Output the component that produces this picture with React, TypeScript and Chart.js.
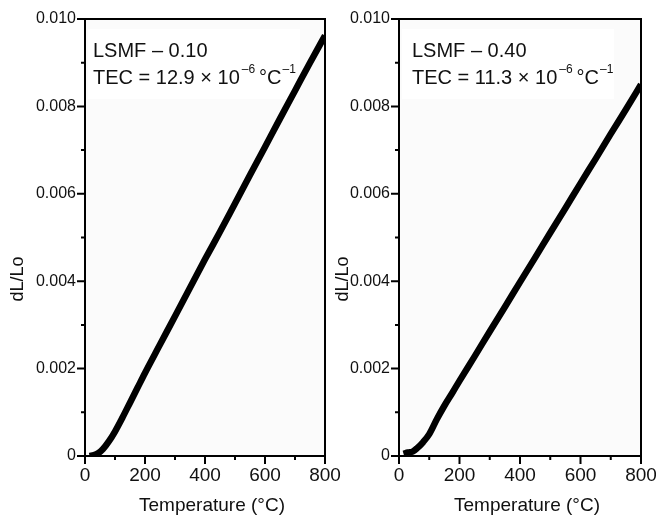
import React, { useEffect, useRef } from 'react';
import { Chart, registerables } from 'chart.js';
Chart.register(...registerables);

const temperature = [15, 30, 45, 60, 80, 100, 125, 150, 175, 200, 250, 300, 350, 400, 450, 500, 550, 600, 650, 700, 750, 800];
const dLLo_010 = [0, 0.00002, 0.00007, 0.00016, 0.00034, 0.00056, 0.00088, 0.00122, 0.00156, 0.0019, 0.00255, 0.0032, 0.00385, 0.0045, 0.00513, 0.00578, 0.00643, 0.00707, 0.00772, 0.00836, 0.009, 0.00962];
const dLLo_040 = [0.00005, 0.00008, 0.0001, 0.00018, 0.00032, 0.0005, 0.00084, 0.00115, 0.00143, 0.00172, 0.00228, 0.00285, 0.00341, 0.00398, 0.00454, 0.00511, 0.00567, 0.00624, 0.0068, 0.00737, 0.00793, 0.0085];
const xMajorTicks = [0, 200, 400, 600, 800];
const xMinorTicks = [100, 300, 500, 700];
const yMajorTicks = [0, 0.002, 0.004, 0.006, 0.008, 0.01];
const yMinorTicks = [0.001, 0.003, 0.005, 0.007, 0.009];
const sampleNames = ['LSMF – 0.10', 'LSMF – 0.40'];
const tecValues = ['12.9', '11.3'];
const xTitle = 'Temperature (°C)';
const yTitle = 'dL/Lo';

const FONT = '"Liberation Sans", Arial, Helvetica, sans-serif';

type PanelProps = {
  canvasLeft: number;
  canvasWidth: number;
  plotLeft: number;
  plotRight: number;
  values: number[];
  name: string;
  tec: string;
  yTitleX: number;
  textOffset: number;
};

const decorPlugin = {
  id: 'decor',
  beforeDraw(chart: any) {
    const { ctx, chartArea: a } = chart;
    ctx.save();
    ctx.fillStyle = '#fbfbfb';
    ctx.fillRect(a.left, a.top, a.right - a.left, a.bottom - a.top);
    ctx.fillStyle = '#ffffff';
    ctx.fillRect(a.left + 3, a.top + 10, 212, 70);
    ctx.restore();
  },
  afterDraw(chart: any, _args: any, opts: any) {
    const { ctx, chartArea: a } = chart;
    const xs = chart.scales.x;
    const ys = chart.scales.y;
    ctx.save();
    ctx.strokeStyle = '#000';
    ctx.lineWidth = 2;
    ctx.strokeRect(a.left, a.top, a.right - a.left, a.bottom - a.top);
    ctx.beginPath();
    xMajorTicks.forEach((v) => {
      const p = xs.getPixelForValue(v);
      ctx.moveTo(p, a.bottom);
      ctx.lineTo(p, a.bottom + 8);
    });
    xMinorTicks.forEach((v) => {
      const p = xs.getPixelForValue(v);
      ctx.moveTo(p, a.bottom);
      ctx.lineTo(p, a.bottom + 4);
    });
    yMajorTicks.forEach((v) => {
      const p = ys.getPixelForValue(v);
      ctx.moveTo(a.left, p);
      ctx.lineTo(a.left - 8, p);
    });
    yMinorTicks.forEach((v) => {
      const p = ys.getPixelForValue(v);
      ctx.moveTo(a.left, p);
      ctx.lineTo(a.left - 4, p);
    });
    ctx.stroke();

    ctx.fillStyle = '#111';
    ctx.font = `19px ${FONT}`;
    ctx.textAlign = 'center';
    ctx.textBaseline = 'middle';
    ctx.fillText(xTitle, (a.left + a.right) / 2 + 7, 506);
    ctx.save();
    ctx.translate(opts.yTitleX, 279);
    ctx.rotate(-Math.PI / 2);
    ctx.font = `18px ${FONT}`;
    ctx.fillText(yTitle, 0, 0);
    ctx.restore();

    ctx.textAlign = 'left';
    ctx.textBaseline = 'alphabetic';
    let x = a.left + opts.textOffset;
    ctx.font = `20px ${FONT}`;
    ctx.fillText(opts.name, x, 57);
    const base = 84;
    const t1 = `TEC = ${opts.tec} × 10`;
    ctx.fillText(t1, x, base);
    x += ctx.measureText(t1).width + 2;
    ctx.font = `12px ${FONT}`;
    ctx.fillText('–6', x, base - 11);
    x += ctx.measureText('–6').width + 4;
    ctx.font = `20px ${FONT}`;
    ctx.fillText('°C', x, base);
    x += ctx.measureText('°C').width + 1;
    ctx.font = `12px ${FONT}`;
    ctx.fillText('–1', x, base - 11);
    ctx.restore();
  },
};

function Panel(p: PanelProps) {
  const ref = useRef<HTMLCanvasElement>(null);
  useEffect(() => {
    if (!ref.current) return;
    const chart = new Chart(ref.current, {
      type: 'line',
      data: {
        datasets: [
          {
            data: temperature.map((t, i) => ({ x: t, y: p.values[i] })),
            borderColor: '#000',
            borderWidth: 6.5,
            pointRadius: 0,
            cubicInterpolationMode: 'monotone',
            clip: 0,
          } as any,
        ],
      },
      options: {
        animation: false,
        responsive: false,
        layout: {
          autoPadding: false,
          padding: { left: 0, top: 19, right: p.canvasWidth - p.plotRight, bottom: 0 },
        } as any,
        plugins: {
          legend: { display: false },
          tooltip: { enabled: false },
          decor: { name: p.name, tec: p.tec, yTitleX: p.yTitleX, textOffset: p.textOffset },
        } as any,
        scales: {
          x: {
            type: 'linear',
            min: 0,
            max: 800,
            afterFit: (s: any) => {
              s.height = 60;
              s.paddingLeft = 0;
              s.paddingRight = 0;
            },
            grid: { display: false, drawTicks: false },
            border: { display: false },
            ticks: {
              stepSize: 200,
              padding: 8,
              color: '#111',
              font: { size: 19, family: FONT },
              maxRotation: 0,
              autoSkip: false,
            },
          },
          y: {
            type: 'linear',
            min: 0,
            max: 0.01,
            afterFit: (s: any) => {
              s.width = p.plotLeft;
              s.paddingTop = 0;
              s.paddingBottom = 0;
            },
            grid: { display: false, drawTicks: false },
            border: { display: false },
            ticks: {
              stepSize: 0.002,
              padding: 9,
              color: '#111',
              font: { size: 16, family: FONT },
              callback: (v: any) => (Number(v) === 0 ? '0' : Number(v).toFixed(3)),
            },
          },
        },
      },
      plugins: [decorPlugin],
    });
    return () => chart.destroy();
  }, []);
  return (
    <canvas
      ref={ref}
      width={p.canvasWidth}
      height={516}
      style={{ position: 'absolute', left: p.canvasLeft, top: 0, width: p.canvasWidth, height: 516 }}
    />
  );
}

export default function App() {
  return (
    <div style={{ position: 'absolute', left: 0, top: 0, width: 656, height: 516, background: '#fff' }}>
      <Panel canvasLeft={0} canvasWidth={345} plotLeft={85} plotRight={325} values={dLLo_010} name={sampleNames[0]} tec={tecValues[0]} yTitleX={18} textOffset={8} />
      <Panel canvasLeft={330} canvasWidth={326} plotLeft={69} plotRight={311} values={dLLo_040} name={sampleNames[1]} tec={tecValues[1]} yTitleX={13} textOffset={13} />
    </div>
  );
}
